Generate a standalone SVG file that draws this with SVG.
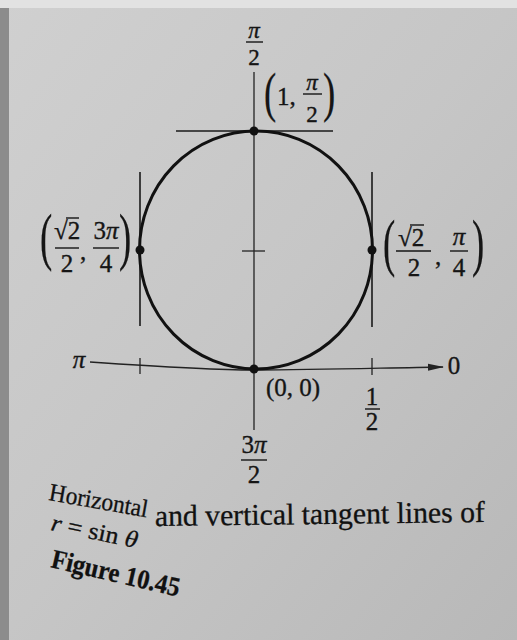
<svg xmlns="http://www.w3.org/2000/svg" width="517" height="640" viewBox="0 0 517 640">
<defs>
<linearGradient id="bg" x1="0" y1="0" x2="1" y2="1">
<stop offset="0" stop-color="#d0d0d0"/>
<stop offset="0.5" stop-color="#c6c6c6"/>
<stop offset="1" stop-color="#b8b8b8"/>
</linearGradient>
<marker id="arr" viewBox="0 0 16 8" refX="15" refY="4" markerWidth="16" markerHeight="8" markerUnits="userSpaceOnUse" orient="auto">
<path d="M0,0.5 L16,4 L0,7.5 Z" fill="#222"/>
</marker>
<style>
.t{font-family:"Liberation Serif","Times New Roman",serif;fill:#151515;stroke:#151515;stroke-width:0.35;font-size:25px}
.s{font-size:23px}
.i{font-style:italic}
.p{font-size:46px;stroke-width:0.2}
.ax{stroke:#222;stroke-width:1.3;fill:none}
.tan{stroke:#1a1a1a;stroke-width:1.6;fill:none}
.bar{stroke:#151515;stroke-width:1.4}
.cap{font-family:"Liberation Serif","Times New Roman",serif;fill:#111;stroke:#111;stroke-width:0.3}
</style>
</defs>
<rect width="517" height="640" fill="url(#bg)"/>
<rect x="0" y="0" width="9" height="640" fill="#8c8c8c"/>
<rect x="0" y="0" width="517" height="8" fill="#e2e2e2"/>

<g id="connectors">
<line class="ax" x1="254" y1="72" x2="254" y2="430"/>
<path class="ax" d="M90,362 C180,368 220,370 254,370 C320,370 380,368 443,367" marker-end="url(#arr)"/>
<line class="ax" x1="242" y1="251" x2="265" y2="251"/>
<line class="ax" x1="140" y1="358" x2="140" y2="374"/>
<line class="ax" x1="372" y1="358" x2="372" y2="375"/>
<line class="tan" x1="176" y1="131" x2="333" y2="131"/>
<line class="tan" x1="140" y1="172" x2="140" y2="326"/>
<line class="tan" x1="372" y1="172" x2="372" y2="327"/>
</g>

<g id="curve">
<ellipse cx="256" cy="250" rx="116.5" ry="119" fill="none" stroke="#111" stroke-width="3"/>
</g>

<g id="points" fill="#111">
<circle cx="254" cy="131" r="4.5"/>
<circle cx="140" cy="250" r="4.5"/>
<circle cx="372" cy="250" r="4.5"/>
<circle cx="254" cy="369" r="4.5"/>
</g>

<g id="label-top">
<text class="t s i" x="254" y="38" text-anchor="middle">π</text>
<line class="bar" x1="246" y1="42" x2="263" y2="42"/>
<text class="t s" x="254" y="65" text-anchor="middle">2</text>
</g>

<g id="label-1-pi2">
<text class="t p" transform="translate(264,111) scale(0.8,1.2)">(</text>
<text class="t" x="277" y="105">1,</text>
<text class="t s i" x="312" y="90" text-anchor="middle">π</text>
<line class="bar" x1="303" y1="94" x2="322" y2="94"/>
<text class="t s" x="312" y="122" text-anchor="middle">2</text>
<text class="t p" transform="translate(323,111) scale(0.8,1.2)">)</text>
</g>

<g id="label-left">
<text class="t p" transform="translate(40,258) scale(0.8,1.4)">(</text>
<text class="t" x="54" y="239">√2</text>
<line class="bar" x1="66" y1="218" x2="79" y2="218"/>
<line class="bar" x1="55" y1="248" x2="79" y2="248"/>
<text class="t" x="67" y="272" text-anchor="middle">2</text>
<text class="t" x="80" y="260">,</text>
<text class="t" x="106" y="239" text-anchor="middle">3<tspan class="i">π</tspan></text>
<line class="bar" x1="93" y1="248" x2="119" y2="248"/>
<text class="t" x="106" y="272" text-anchor="middle">4</text>
<text class="t p" transform="translate(119,258) scale(0.8,1.4)">)</text>
</g>

<g id="label-right">
<text class="t p" transform="translate(383,264) scale(0.8,1.4)">(</text>
<text class="t" x="398" y="246">√2</text>
<line class="bar" x1="410" y1="225" x2="424" y2="225"/>
<line class="bar" x1="396" y1="251" x2="431" y2="251"/>
<text class="t" x="414" y="276" text-anchor="middle">2</text>
<text class="t" x="435" y="265">,</text>
<text class="t i" x="459" y="245" text-anchor="middle">π</text>
<line class="bar" x1="450" y1="251" x2="468" y2="251"/>
<text class="t" x="459" y="276" text-anchor="middle">4</text>
<text class="t p" transform="translate(472,264) scale(0.8,1.4)">)</text>
</g>

<g id="label-axes">
<text class="t i" x="79" y="368" text-anchor="middle">π</text>
<text class="t" x="454" y="374" text-anchor="middle">0</text>
<text class="t" x="266" y="396">(0, 0)</text>
<text class="t" x="372" y="405" text-anchor="middle">1</text>
<line class="bar" x1="365" y1="409" x2="380" y2="409"/>
<text class="t" x="372" y="430" text-anchor="middle">2</text>
<text class="t" x="254" y="453" text-anchor="middle">3<tspan class="i">π</tspan></text>
<line class="bar" x1="241" y1="460" x2="267" y2="460"/>
<text class="t" x="254" y="483" text-anchor="middle">2</text>
</g>

<g id="caption">
<text class="cap" x="48" y="500" font-size="25" transform="rotate(10 48 500)" textLength="100" lengthAdjust="spacingAndGlyphs">Horizontal</text>
<text class="cap" x="155" y="526" font-size="30" transform="rotate(-0.7 155 526)" textLength="330" lengthAdjust="spacingAndGlyphs">and vertical tangent lines of</text>
<text class="cap" x="50" y="530" font-size="24" transform="rotate(12 50 530)" textLength="88" lengthAdjust="spacingAndGlyphs"><tspan font-style="italic">r</tspan> = sin <tspan font-style="italic">θ</tspan></text>
<text class="cap" x="50" y="567" font-size="27" font-weight="bold" transform="rotate(13 50 567)" textLength="131" lengthAdjust="spacingAndGlyphs">Figure 10.45</text>
</g>
</svg>
